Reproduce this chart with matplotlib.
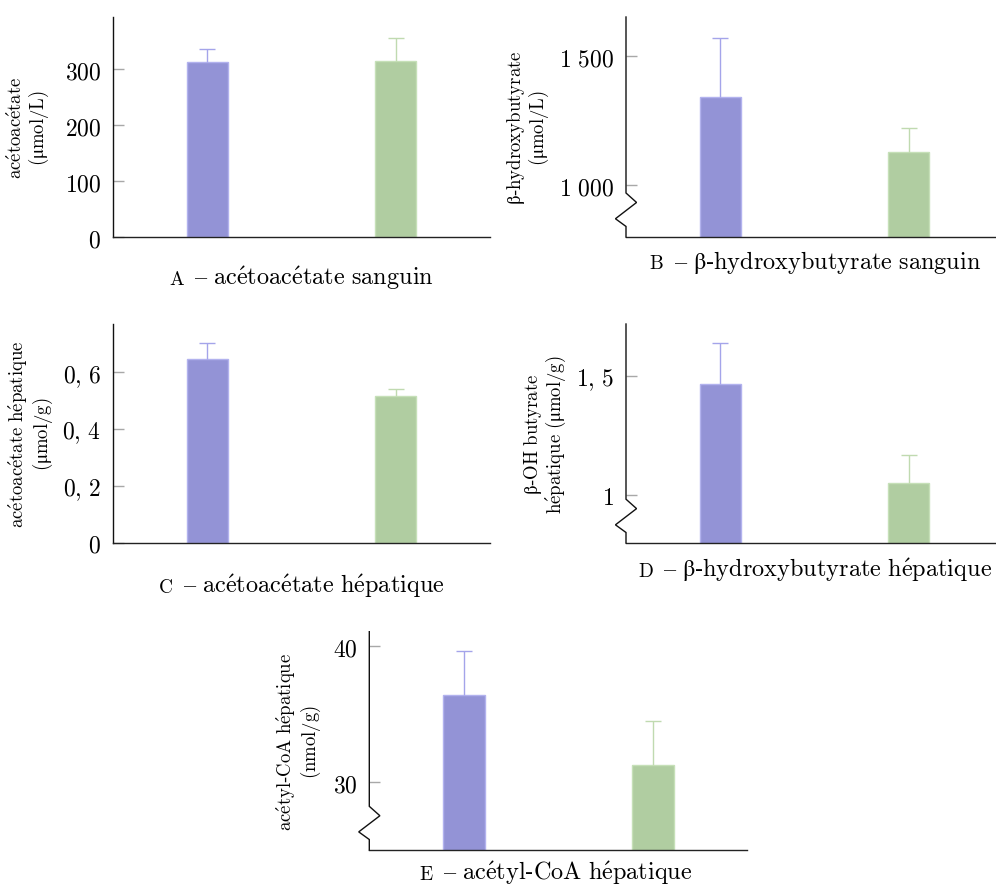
import matplotlib
matplotlib.use("Agg")
import matplotlib.pyplot as plt
from matplotlib.offsetbox import TextArea, HPacker, AnnotationBbox

plt.rcParams['mathtext.fontset'] = 'cm'
plt.rcParams['font.family'] = ['DejaVu Serif']

# ---------------- data ----------------
groups = [0, 1]

A_vals = [313, 315]
A_err = [23, 41]
A_ticks = [0, 100, 200, 300]
A_ticklabels = ['0', '100', '200', '300']
A_ylabel = ['acétoacétate', '(μmol/L)']
A_caption = 'acétoacétate sanguin'

B_vals = [1342, 1128]
B_err = [230, 92]
B_ticks = [1000, 1500]
B_ticklabels = ['1 000', '1 500']
B_ylabel = ['β-hydroxybutyrate', '(μmol/L)']
B_caption = 'β-hydroxybutyrate sanguin'

C_vals = [0.647, 0.516]
C_err = [0.055, 0.025]
C_ticks = [0, 0.2, 0.4, 0.6]
C_ticklabels = ['0', '0,2', '0,4', '0,6']
C_ylabel = ['acétoacétate hépatique', '(μmol/g)']
C_caption = 'acétoacétate hépatique'

D_vals = [1.464, 1.050]
D_err = [0.172, 0.118]
D_ticks = [1, 1.5]
D_ticklabels = ['1', '1,5']
D_ylabel = ['β-OH butyrate', 'hépatique (μmol/g)']
D_caption = 'β-hydroxybutyrate hépatique'

E_vals = [36.42, 31.25]
E_err = [3.21, 3.28]
E_ticks = [30, 40]
E_ticklabels = ['30', '40']
E_ylabel = ['acétyl-CoA hépatique', '(nmol/g)']
E_caption = 'acétyl-CoA hépatique'

# ---------------- styles ----------------
fills = ['#9393d6', '#b0cda1']
edges = ['#b2b2ee', '#c6e0b8']
errcols = ['#a4a4ea', '#c0dab0']

W, H = 996, 887
fig = plt.figure(figsize=(W / 100, H / 100), dpi=100)
fig.patch.set_facecolor('white')


def mt(s):
    """plain text -> mathtext (Computer Modern)"""
    s = s.replace('é', r"\'e").replace(' ', r'\ ').replace('-', '\u2010')
    return r'$\mathrm{' + s + '}$'


def mt_num(s):
    s = s.replace(' ', r'\,').replace(',', r',\,')
    return '$' + s + '$'


panels = [
    dict(rect=(113, 490, 18, 238), vals=A_vals, errs=A_err, ylim=(0, 393),
         ticks=A_ticks, tl=A_ticklabels, ylabel=A_ylabel, letter='A',
         caption=A_caption, crunch=False, lab_x=29, cap=(301.5, 278)),
    dict(rect=(626, 1003, 18, 238), vals=B_vals, errs=B_err, ylim=(798, 1653),
         ticks=B_ticks, tl=B_ticklabels, ylabel=B_ylabel, letter='B',
         caption=B_caption, crunch=True, lab_x=528, cap=(815, 263)),
    dict(rect=(113, 490, 325, 544), vals=C_vals, errs=C_err, ylim=(0, 0.77),
         ticks=C_ticks, tl=C_ticklabels, ylabel=C_ylabel, letter='C',
         caption=C_caption, crunch=False, lab_x=31, cap=(301.5, 586)),
    dict(rect=(626, 1003, 325, 544), vals=D_vals, errs=D_err, ylim=(0.8, 1.717),
         ticks=D_ticks, tl=D_ticklabels, ylabel=D_ylabel, letter='D',
         caption=D_caption, crunch=True, lab_x=545, cap=(815, 570)),
    dict(rect=(369.3, 747.3, 632.7, 851), vals=E_vals, errs=E_err, ylim=(25.0, 41.07),
         ticks=E_ticks, tl=E_ticklabels, ylabel=E_ylabel, letter='E',
         caption=E_caption, crunch=True, lab_x=299, cap=(556, 873)),
]

for p in panels:
    l, r, t, b = p['rect']
    ax = fig.add_axes([l / W, 1 - b / H, (r - l) / W, (b - t) / H])
    ax.set_facecolor('none')
    ax.bar(groups, p['vals'], width=0.22, color=fills, edgecolor=edges,
           linewidth=1.0, zorder=2)
    for i, g in enumerate(groups):
        eb = ax.errorbar(g, p['vals'][i], yerr=[[0], [p['errs'][i]]], fmt='none',
                         ecolor=errcols[i], elinewidth=1.0, capsize=5.5,
                         capthick=1.0, zorder=3)
        caps = eb[1]
        if len(caps) > 0:
            caps[0].set_visible(False)
    ax.set_xlim(-0.5, 1.5)
    ax.set_ylim(*p['ylim'])
    ax.set_xticks([])
    ax.set_yticks(p['ticks'])
    ax.set_yticklabels([mt_num(s) for s in p['tl']])
    ax.tick_params(axis='y', direction='in', length=8, width=1.0,
                   color='#a8a8a8', pad=8.5, labelsize=17)
    for s in ('top', 'right'):
        ax.spines[s].set_visible(False)
    ax.spines['bottom'].set_linewidth(1.0)
    ax.spines['bottom'].set_color('#222222')
    if p['crunch']:
        ax.spines['left'].set_visible(False)
        ax.plot([0, 0, 0.028, -0.028, 0, 0], [1, 0.2, 0.157, 0.083, 0.048, 0],
                transform=ax.transAxes, color='#111111', lw=1.0, clip_on=False,
                solid_joinstyle='miter', zorder=4)
    else:
        ax.spines['left'].set_linewidth(1.0)
        ax.spines['left'].set_color('#111111')
    # y label (two lines)
    ycen = 1 - ((t + b) / 2) / H
    fig.text(p['lab_x'] / W, ycen, '\n'.join(mt(s) for s in p['ylabel']),
             rotation=90, ha='center', va='center', fontsize=13.5,
             linespacing=1.0, multialignment='center')
    # caption with small-caps letter
    ta1 = TextArea(mt(p['letter']), textprops=dict(fontsize=14))
    ta2 = TextArea(mt('\u2013 ' + p['caption']), textprops=dict(fontsize=17.5))
    hp = HPacker(children=[ta1, ta2], align='baseline', pad=0, sep=7)
    ab = AnnotationBbox(hp, (p['cap'][0], H - p['cap'][1]), xycoords='figure pixels',
                        frameon=False, box_alignment=(0.5, 0.5))
    fig.add_artist(ab)

fig.savefig('out.png', dpi=100, facecolor='white')
